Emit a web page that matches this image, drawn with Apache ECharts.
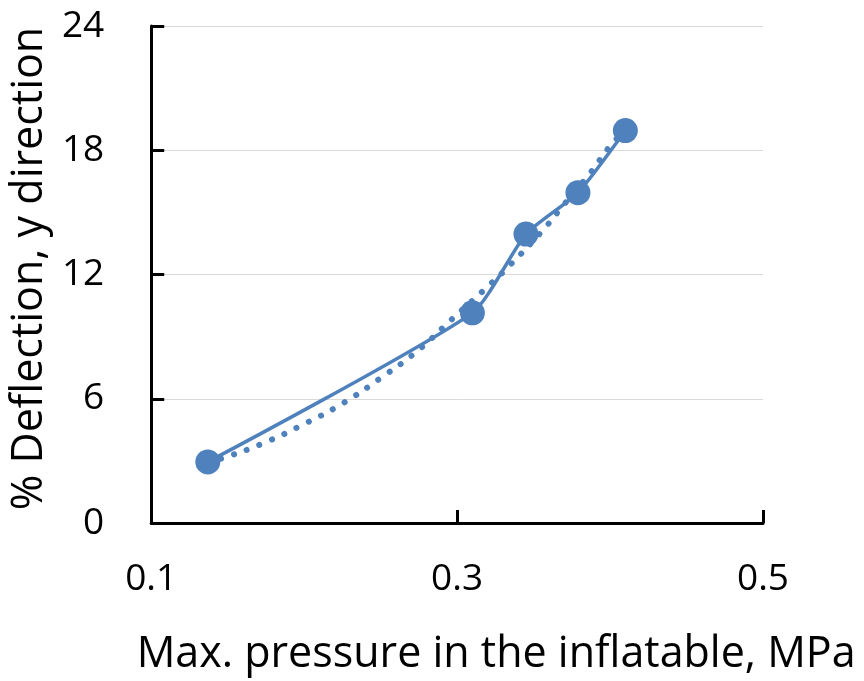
<!DOCTYPE html>
<html>
<head>
<meta charset="utf-8">
<script src="https://cdn.jsdelivr.net/npm/echarts@6/dist/echarts.min.js"></script>
<style>
  html, body { margin: 0; padding: 0; background: #ffffff; }
  #chart { width: 864px; height: 681px; }
</style>
</head>
<body>
<div id="chart"></div>
<script>
// Measured deflection against maximum inflation pressure
const pressure = [0.137, 0.310, 0.345, 0.379, 0.410];
const deflection = [2.95, 10.15, 13.95, 15.95, 18.95];

// Trendline samples (dotted curve)
const trendPressure = [0.137, 0.147, 0.1735, 0.200, 0.2255, 0.250, 0.274, 0.296, 0.319, 0.334, 0.355, 0.368, 0.3875, 0.400, 0.410];
const trendDeflection = [2.95, 3.14, 3.86, 4.78, 5.79, 7.00, 8.31, 9.80, 11.35, 12.41, 14.05, 15.21, 16.95, 18.20, 18.95];

// Axis ticks
const xTicks = [0.1, 0.3, 0.5];
const yTicks = [0, 6, 12, 18, 24];

const blue = '#4F81BD';
const font = 'Open Sans';

const measured = pressure.map((p, i) => [p, deflection[i]]);
const trend = trendPressure.map((p, i) => [p, trendDeflection[i]]);

const chart = echarts.init(document.getElementById('chart'), null, { renderer: 'canvas' });
chart.setOption({
  animation: false,
  backgroundColor: '#ffffff',
  grid: { left: 148, right: 101, top: 26, bottom: 158, containLabel: false },
  xAxis: {
    type: 'value',
    min: xTicks[0],
    max: xTicks[xTicks.length - 1],
    interval: xTicks[1] - xTicks[0],
    name: 'Max. pressure in the inflatable, MPa',
    nameLocation: 'middle',
    nameGap: 110,
    nameTextStyle: { fontFamily: font, fontSize: 43, color: '#000', padding: [0, 0, 0, 78] },
    axisLine: { show: true, lineStyle: { color: '#000', width: 3 } },
    axisTick: { show: true, inside: true, length: 13, lineStyle: { color: '#000', width: 3 } },
    axisLabel: {
      margin: 38,
      fontFamily: font, fontSize: 37, color: '#000',
      formatter: v => v.toFixed(1)
    },
    splitLine: { show: false }
  },
  yAxis: {
    type: 'value',
    min: yTicks[0],
    max: yTicks[yTicks.length - 1],
    interval: yTicks[1] - yTicks[0],
    name: '% Deflection, y direction',
    nameLocation: 'middle',
    nameGap: 75,
    nameTextStyle: { fontFamily: font, fontSize: 43, color: '#000', padding: [0, 0, 0, 12] },
    axisLine: { show: true, lineStyle: { color: '#000', width: 3 } },
    axisTick: { show: true, inside: true, length: 13, lineStyle: { color: '#000', width: 3 } },
    axisLabel: { margin: 47, fontFamily: font, fontSize: 37, color: '#000' },
    splitLine: { show: true, lineStyle: { color: '#d9d9d9', width: 1 } }
  },
  series: [
    {
      name: 'Trend',
      type: 'line',
      data: trend,
      smooth: true,
      showSymbol: false,
      symbol: 'none',
      lineStyle: { color: blue, width: 6, type: [0.1, 13.5], cap: 'round' },
      z: 2
    },
    {
      name: 'Measured',
      type: 'line',
      data: measured,
      smooth: 0.2,
      symbol: 'circle',
      symbolSize: 25,
      itemStyle: { color: blue },
      lineStyle: { color: blue, width: 3.5 },
      z: 3
    }
  ]
});
</script>
</body>
</html>
